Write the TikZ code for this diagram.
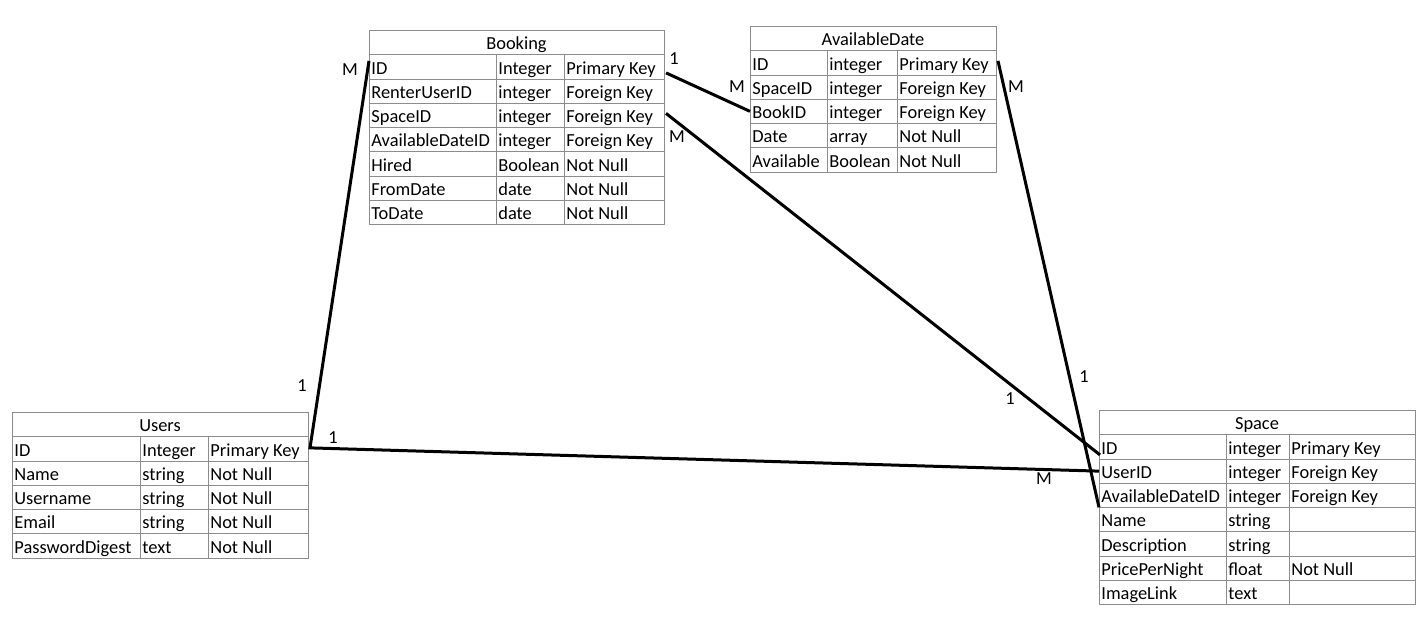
\documentclass[tikz,border=0pt]{standalone}
\usepackage{fontspec}
\setmainfont{Carlito}
\usetikzlibrary{calc}

% row height of every table, in drawing units
\def\rowh{24.25}

% \dbtable{name}{left}{top}{right}{2nd column x}{3rd column x}{title}{rows a/b/c}
\newcommand\dbtable[8]{%
  \node[cellbox, minimum width={(#4-#2)*0.5pt}, anchor=north west] (#1-0) at (#2,#3) {};
  \node[titletext] at ({(#2+#4)/2},{#3+\rowh-4.5}) {#7};
  \foreach [count=\i] \a/\b/\c in {#8} {
    \node[cellbox, minimum width={(#4-#2)*0.5pt}, anchor=north west] (#1-\i) at (#2,{#3+\i*\rowh}) {};
    \draw[gridline] (#5,{#3+\i*\rowh}) -- ++(0,\rowh);
    \draw[gridline] (#6,{#3+\i*\rowh}) -- ++(0,\rowh);
    \node[celltext] at ({#2+2},{#3+(\i+1)*\rowh-4.5}) {\a};
    \node[celltext] at ({#5+2},{#3+(\i+1)*\rowh-4.5}) {\b};
    \node[celltext] at ({#6+2},{#3+(\i+1)*\rowh-4.5}) {\c};
  }%
}

\begin{document}
\begin{tikzpicture}[x=0.5pt,y=-0.5pt,
  gridline/.style={draw=black!45, line width=0.5pt},
  cellbox/.style={gridline, rectangle, inner sep=0pt, minimum height=12.125pt},
  celltext/.style={anchor=base west, inner sep=0pt, font=\fontsize{9.2pt}{10pt}\selectfont},
  titletext/.style={anchor=base, inner sep=0pt, font=\fontsize{9.2pt}{10pt}\selectfont},
  link/.style={line width=1.5pt, black},
  card/.style={inner sep=0pt, font=\fontsize{9.2pt}{10pt}\selectfont}]

\useasboundingbox[fill=white] (0,0) rectangle (1426,621);

\dbtable{booking}{369}{30}{664}{496}{564}{Booking}{%
  ID/Integer/Primary Key,
  RenterUserID/integer/Foreign Key,
  SpaceID/integer/Foreign Key,
  AvailableDateID/integer/Foreign Key,
  Hired/Boolean/Not Null,
  FromDate/date/Not Null,
  ToDate/date/Not Null}

\dbtable{avail}{750}{26}{996}{827}{897}{AvailableDate}{%
  ID/integer/Primary Key,
  SpaceID/integer/Foreign Key,
  BookID/integer/Foreign Key,
  Date/array/Not Null,
  Available/Boolean/Not Null}

\dbtable{users}{12}{412}{308}{140}{208}{Users}{%
  ID/Integer/Primary Key,
  Name/string/Not Null,
  Username/string/Not Null,
  Email/string/Not Null,
  PasswordDigest/text/Not Null}

\dbtable{space}{1099}{410}{1415}{1226}{1289}{Space}{%
  ID/integer/Primary Key,
  UserID/integer/Foreign Key,
  AvailableDateID/integer/Foreign Key,
  Name/string/{},
  Description/string/{},
  PricePerNight/float/Not Null,
  ImageLink/text/{}}

% relationships
\draw[link] ($(booking-1.west)+(0,-6)$) -- ($(users-1.east)+(1,-1)$)
            -- (space-2.west);
\draw[link] ($(booking-1.east)+(1,6)$) -- (avail-3.west);
\draw[link] ($(booking-3.east)+(1,-2)$) -- ($(space-1.west)+(1,8)$);
\draw[link] ($(avail-1.east)+(1,-2)$) -- ($(space-3.west)+(0,12)$);

% cardinalities
\node[card] (c1) at (350,70) {M};
\node[card] (c2) at (302,386) {1};
\node[card] (c3) at (333,438) {1};
\node[card] (c4) at (1044,479) {M};
\node[card] (c5) at (674,59) {1};
\node[card] (c6) at (737,87) {M};
\node[card] (c7) at (677,137) {M};
\node[card] (c8) at (1010,399) {1};
\node[card] (c9) at (1016,87) {M};
\node[card] (c10) at (1084,377) {1};
\end{tikzpicture}
\end{document}
